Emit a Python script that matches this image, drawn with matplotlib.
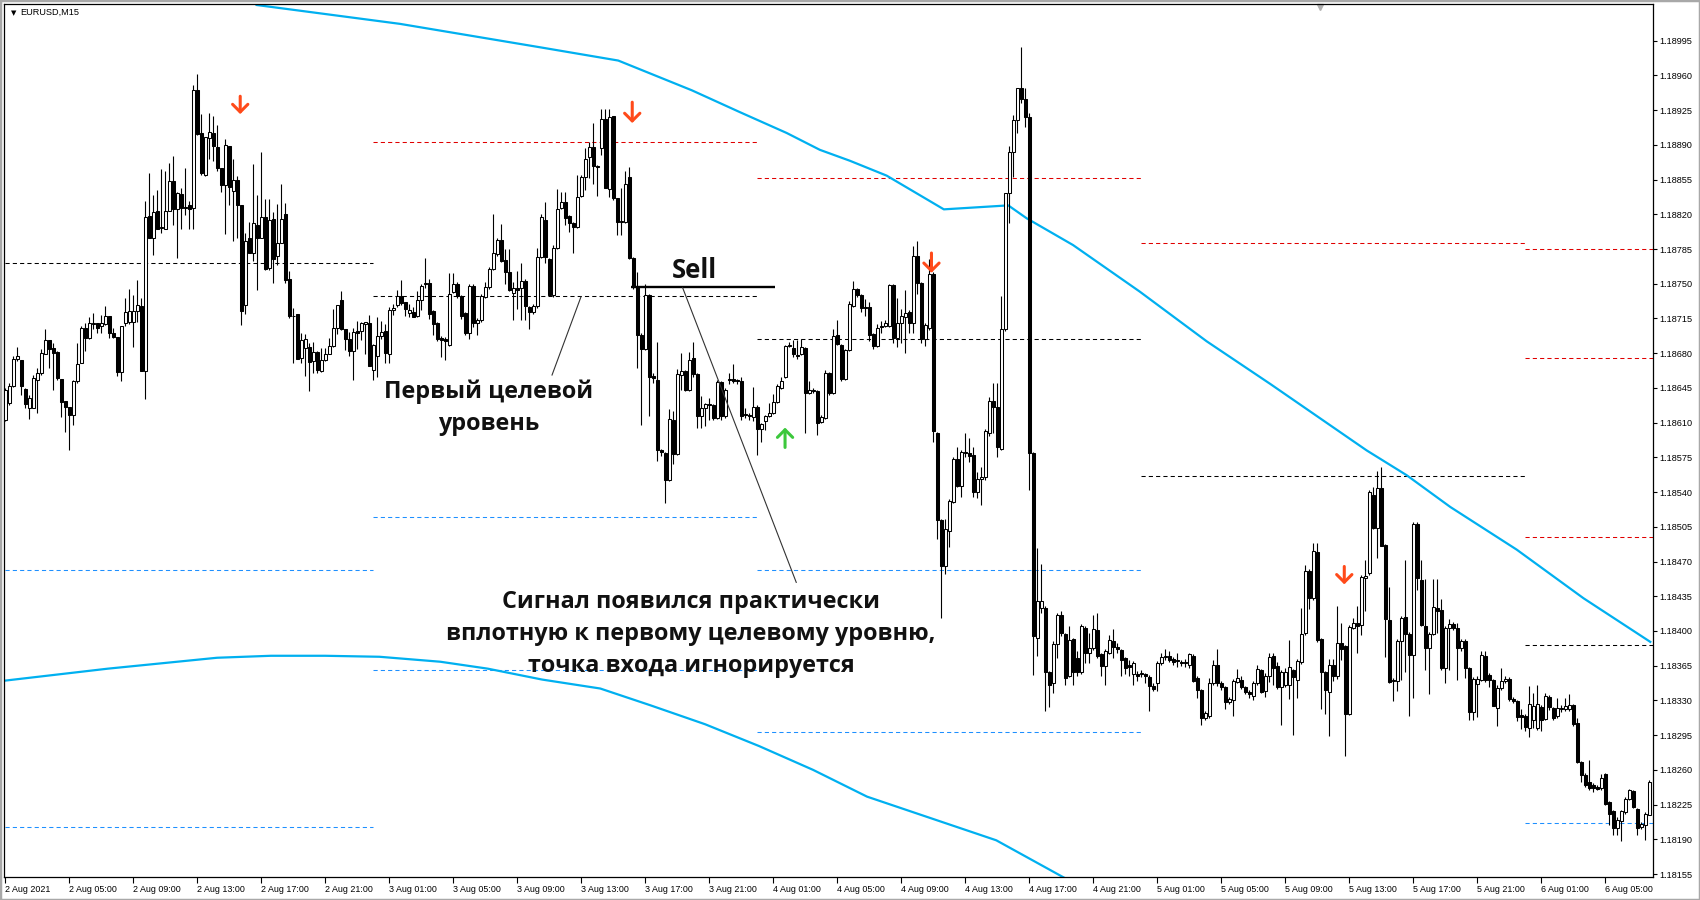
import numpy as np
import matplotlib.pyplot as plt
from matplotlib.patches import Rectangle
from matplotlib import font_manager

# prices are stored in points (0.00001) above BASE
BASE = 1.18
PT = 0.00001

opens = [
    613, 630, 647, 674, 673, 644, 625, 625, 653, 660,
    679, 693, 685, 681, 654, 632, 626, 618, 652, 670,
    705, 695, 709, 710, 707, 709, 717, 700, 696, 661,
    710, 711, 711, 723, 728, 662, 818, 796, 823, 806,
    805, 823, 854, 825, 840, 827, 829, 826, 945, 902,
    860, 897, 902, 888, 867, 850, 889, 844, 855, 829,
    729, 796, 781, 809, 796, 817, 766, 815, 778, 791,
    820, 755, 717, 720, 675, 685, 686, 672, 681, 662,
    673, 679, 687, 705, 734, 704, 694, 682, 702, 702,
    709, 710, 663, 677, 697, 702, 679, 724, 729, 738,
    732, 721, 722, 717, 734, 750, 751, 723, 710, 695,
    694, 688, 742, 750, 738, 721, 700, 748, 710, 713,
    737, 747, 765, 780, 794, 774, 762, 741, 746, 746,
    753, 727, 722, 728, 777, 814, 775, 739, 786, 826,
    832, 818, 811, 807, 838, 858, 878, 888, 869, 887,
    916, 846, 919, 836, 812, 812, 858, 776, 747, 698,
    684, 739, 657, 653, 582, 579, 552, 613, 578, 658,
    662, 643, 675, 659, 617, 625, 629, 628, 615, 651,
    617, 654, 654, 653, 652, 619, 618, 616, 626, 604,
    612, 617, 620, 631, 645, 656, 687, 685, 678, 679,
    685, 640, 642, 642, 611, 615, 660, 640, 698, 688,
    654, 683, 728, 745, 739, 727, 727, 699, 687, 707,
    707, 707, 749, 695, 710, 716, 722, 710, 778, 751,
    694, 705, 760, 600, 512, 465, 501, 530, 573, 546,
    580, 579, 577, 540, 553, 555, 600, 632, 626, 583,
    704, 841, 883, 915, 947, 936, 918, 579, 393, 423,
    423, 359, 348, 387, 416, 397, 355, 392, 373, 359,
    403, 378, 383, 401, 377, 365, 378, 390, 384, 381,
    373, 366, 357, 357, 357, 357, 354, 345, 348, 368,
    374, 375, 372, 371, 369, 369, 366, 375, 353, 341,
    312, 314, 348, 366, 348, 344, 328, 330, 349, 351,
    344, 338, 334, 348, 361, 339, 355, 375, 365, 344,
    346, 346, 361, 351, 369, 398, 460, 433, 480, 392,
    359, 338, 366, 355, 388, 385, 316, 403, 408, 406,
    453, 458, 537, 504, 544, 487, 411, 350, 350, 390,
    414, 397, 376, 508, 451, 405, 383, 397, 423, 421,
    363, 403, 407, 403, 383, 390, 363, 318, 347, 351,
    375, 356, 351, 322, 343, 350, 352, 331, 329, 315,
    314, 302, 310, 302, 323, 311, 333, 322, 314, 321,
    321, 321, 325, 307, 268, 255, 248, 245, 243, 242,
    256, 228, 219, 201, 208, 218, 231, 239, 221, 202,
    204, 215,
]
highs = [
    645, 650, 677, 686, 673, 645, 638, 658, 665, 684,
    704, 693, 690, 682, 654, 632, 626, 653, 690, 707,
    710, 716, 721, 710, 719, 728, 717, 705, 696, 707,
    736, 745, 739, 754, 736, 833, 862, 839, 845, 866,
    864, 872, 879, 842, 847, 867, 833, 950, 961, 921,
    898, 922, 919, 910, 867, 896, 889, 876, 859, 829,
    801, 812, 871, 839, 883, 835, 835, 822, 830, 851,
    831, 763, 726, 720, 700, 699, 690, 691, 682, 685,
    685, 695, 725, 729, 743, 704, 701, 705, 712, 711,
    711, 719, 689, 716, 712, 709, 727, 730, 744, 754,
    732, 730, 727, 743, 750, 776, 755, 724, 711, 697,
    696, 761, 761, 752, 739, 722, 750, 750, 715, 740,
    752, 767, 820, 796, 810, 785, 785, 752, 763, 771,
    755, 728, 730, 786, 820, 832, 776, 789, 846, 842,
    842, 819, 812, 860, 860, 887, 893, 912, 870, 926,
    926, 926, 919, 836, 847, 864, 868, 777, 762, 700,
    750, 740, 660, 691, 583, 580, 624, 622, 664, 680,
    663, 681, 691, 660, 637, 630, 635, 629, 653, 652,
    645, 660, 669, 654, 656, 625, 620, 646, 628, 610,
    618, 630, 639, 649, 656, 688, 691, 693, 693, 694,
    686, 652, 645, 643, 618, 663, 661, 704, 713, 689,
    684, 733, 753, 746, 740, 735, 732, 700, 709, 712,
    713, 750, 750, 736, 725, 744, 724, 788, 793, 752,
    710, 775, 762, 601, 513, 513, 533, 575, 585, 582,
    600, 595, 585, 560, 565, 604, 636, 650, 650, 738,
    841, 889, 920, 947, 989, 947, 922, 580, 484, 468,
    425, 360, 390, 418, 420, 398, 405, 393, 380, 407,
    405, 398, 416, 418, 378, 382, 396, 402, 388, 382,
    374, 371, 370, 360, 361, 358, 356, 348, 370, 378,
    382, 380, 374, 378, 371, 372, 378, 377, 355, 342,
    319, 353, 371, 382, 350, 345, 333, 352, 362, 355,
    345, 340, 350, 366, 362, 358, 378, 378, 369, 361,
    363, 391, 362, 372, 423, 467, 462, 489, 489, 393,
    360, 372, 372, 425, 408, 386, 406, 413, 425, 456,
    472, 542, 545, 561, 565, 488, 444, 353, 392, 415,
    472, 399, 510, 510, 472, 452, 399, 452, 452, 432,
    405, 412, 409, 408, 392, 392, 364, 354, 355, 380,
    380, 358, 352, 346, 363, 355, 354, 333, 330, 321,
    316, 345, 337, 346, 325, 337, 335, 323, 332, 325,
    332, 336, 326, 312, 269, 257, 270, 247, 245, 256,
    257, 229, 220, 212, 220, 233, 241, 240, 222, 207,
    218, 250,
]
lows = [
    612, 628, 646, 672, 638, 625, 614, 625, 620, 658,
    679, 665, 643, 653, 616, 601, 582, 608, 650, 670,
    682, 694, 704, 700, 700, 708, 695, 695, 657, 652,
    707, 709, 686, 711, 662, 634, 796, 779, 805, 801,
    805, 823, 809, 776, 805, 819, 805, 805, 900, 860,
    859, 876, 874, 864, 842, 800, 829, 793, 796, 708,
    720, 781, 773, 744, 796, 764, 764, 751, 769, 791,
    751, 715, 670, 674, 670, 657, 642, 660, 660, 661,
    672, 679, 686, 699, 703, 683, 677, 653, 684, 693,
    679, 667, 653, 656, 694, 670, 670, 719, 727, 729,
    717, 716, 716, 716, 724, 746, 714, 698, 692, 676,
    673, 687, 741, 736, 714, 698, 694, 706, 698, 711,
    736, 745, 764, 778, 772, 750, 743, 713, 725, 713,
    713, 704, 720, 726, 776, 771, 738, 737, 785, 825,
    809, 802, 781, 806, 837, 845, 857, 851, 838, 880,
    847, 837, 834, 799, 799, 811, 775, 745, 665, 608,
    683, 617, 650, 571, 576, 529, 551, 568, 577, 643,
    642, 642, 656, 605, 605, 607, 613, 613, 614, 613,
    615, 649, 650, 649, 613, 615, 613, 612, 577, 590,
    603, 616, 619, 630, 644, 655, 686, 676, 674, 678,
    600, 639, 640, 598, 610, 614, 638, 639, 688, 652,
    653, 682, 727, 737, 722, 718, 692, 684, 686, 700,
    706, 706, 690, 686, 690, 680, 700, 700, 740, 690,
    687, 703, 590, 493, 413, 457, 485, 529, 545, 535,
    575, 570, 535, 534, 527, 552, 597, 600, 575, 582,
    702, 811, 858, 902, 932, 908, 542, 356, 375, 418,
    319, 323, 337, 373, 395, 346, 354, 346, 355, 357,
    368, 368, 381, 373, 355, 346, 377, 373, 378, 355,
    357, 355, 346, 350, 354, 348, 319, 339, 339, 366,
    371, 369, 366, 364, 365, 364, 363, 349, 332, 305,
    310, 312, 346, 345, 340, 321, 326, 314, 348, 342,
    336, 332, 330, 346, 337, 333, 349, 346, 342, 305,
    344, 331, 295, 332, 367, 396, 422, 431, 389, 321,
    316, 294, 350, 352, 371, 274, 315, 402, 378, 396,
    420, 456, 503, 474, 486, 374, 348, 329, 339, 351,
    359, 314, 332, 441, 405, 361, 336, 396, 398, 361,
    348, 361, 401, 351, 380, 353, 310, 310, 313, 350,
    349, 344, 324, 304, 341, 348, 329, 327, 309, 301,
    299, 293, 302, 300, 299, 310, 320, 310, 312, 318,
    319, 319, 304, 267, 248, 243, 240, 238, 240, 240,
    225, 204, 194, 194, 188, 216, 230, 222, 194, 200,
    189, 215,
]
closes = [
    643, 647, 674, 677, 647, 629, 635, 655, 660, 680,
    693, 684, 680, 655, 631, 626, 618, 652, 669, 705,
    695, 710, 710, 705, 710, 717, 700, 696, 661, 707,
    722, 723, 723, 729, 662, 817, 796, 822, 805, 807,
    823, 854, 825, 841, 826, 826, 825, 945, 901, 862,
    898, 903, 889, 867, 850, 890, 848, 855, 829, 723,
    793, 781, 811, 796, 817, 765, 814, 775, 791, 815,
    754, 717, 718, 674, 693, 694, 671, 681, 663, 673,
    679, 687, 705, 729, 704, 694, 682, 701, 700, 710,
    711, 667, 688, 697, 701, 680, 724, 726, 738, 731,
    725, 724, 716, 734, 748, 751, 720, 709, 694, 693,
    692, 740, 750, 738, 718, 700, 748, 710, 713, 738,
    747, 765, 781, 794, 773, 762, 744, 746, 744, 753,
    728, 722, 728, 777, 817, 777, 739, 786, 825, 832,
    816, 811, 807, 837, 858, 876, 888, 869, 868, 916,
    847, 918, 836, 812, 813, 851, 776, 747, 698, 684,
    739, 656, 655, 582, 580, 552, 614, 578, 659, 662,
    643, 673, 659, 617, 625, 629, 628, 615, 651, 617,
    643, 653, 652, 652, 617, 618, 617, 626, 604, 609,
    617, 620, 631, 647, 652, 687, 688, 679, 677, 686,
    640, 643, 643, 610, 616, 660, 640, 697, 689, 654,
    683, 730, 745, 739, 726, 726, 698, 687, 705, 706,
    710, 749, 695, 710, 718, 721, 710, 778, 751, 694,
    708, 760, 602, 512, 465, 503, 531, 573, 546, 580,
    579, 576, 540, 553, 555, 602, 632, 626, 585, 704,
    841, 883, 915, 947, 936, 918, 579, 395, 430, 430,
    359, 346, 387, 416, 398, 353, 391, 359, 359, 405,
    378, 383, 402, 375, 365, 380, 391, 384, 382, 371,
    363, 364, 368, 355, 358, 355, 345, 342, 368, 374,
    375, 371, 369, 370, 368, 368, 377, 350, 341, 312,
    317, 348, 366, 348, 344, 328, 331, 350, 353, 344,
    338, 336, 348, 362, 338, 355, 374, 363, 344, 359,
    359, 364, 354, 370, 397, 460, 433, 481, 391, 359,
    340, 366, 355, 388, 382, 316, 404, 408, 405, 454,
    455, 540, 504, 544, 486, 412, 349, 351, 390, 413,
    397, 376, 508, 453, 406, 383, 397, 424, 420, 363,
    403, 407, 403, 383, 390, 363, 318, 352, 352, 376,
    351, 351, 324, 343, 350, 352, 331, 329, 313, 313,
    303, 326, 324, 326, 310, 334, 323, 312, 322, 322,
    324, 325, 306, 268, 255, 245, 242, 242, 241, 252,
    226, 216, 201, 209, 219, 231, 240, 223, 201, 205,
    216, 248,
]

# blue envelope lines, (bar, points)
upper_bar = [62.8, 98.6, 134.2, 153.2, 171.6, 183.6, 195.3, 203.6, 211.1, 220.3, 234.6,
             250.7, 255.3, 266.9, 283.6, 300.3, 316.2, 340.3, 350.3, 361.2, 377.8, 394.5, 411.2]
upper_val = [1031, 1012, 988, 975, 945, 923, 902, 885, 874, 859, 825,
             829, 816, 789, 742, 692, 649, 582, 557, 525, 482, 433, 389]
lower_bar = [0, 25.6, 52.9, 66.4, 79.9, 93.5, 108.7, 120.6, 134.2, 148.7, 161.3,
             174.9, 188.4, 201.9, 215.4, 247.7, 265.7]
lower_val = [350, 362, 373, 375, 375, 374, 369, 362, 351, 342, 325,
             306, 284, 260, 233, 189, 149]

# daily levels: day start/end bar and levels per colour
day_start = [0, 92, 188, 284, 380]
day_end = [92, 188, 284, 380, 412]
red_levels = [[], [893], [857], [791], [785, 675, 495]]
black_levels = [[771], [738], [694], [556], [386]]
blue_levels = [[461, 202], [515, 361], [461, 298], [], [206]]

down_arrow_bar = [58.7, 156.7, 231.5, 334.7]
down_arrow_top = [939, 933, 781, 465]
down_arrow_tip = [921, 912, 761, 447]
up_arrow_bar = [194.9]
up_arrow_tail = [585]
up_arrow_tip = [605]

sell_level = 746.5
sell_from, sell_to = 156.4, 192.4

xtick_bars = list(range(0, 401, 16))
xtick_labels = ["2 Aug 2021", "2 Aug 05:00", "2 Aug 09:00", "2 Aug 13:00", "2 Aug 17:00",
                "2 Aug 21:00", "3 Aug 01:00", "3 Aug 05:00", "3 Aug 09:00", "3 Aug 13:00",
                "3 Aug 17:00", "3 Aug 21:00", "4 Aug 01:00", "4 Aug 05:00", "4 Aug 09:00",
                "4 Aug 13:00", "4 Aug 17:00", "4 Aug 21:00", "5 Aug 01:00", "5 Aug 05:00",
                "5 Aug 09:00", "5 Aug 13:00", "5 Aug 17:00", "5 Aug 21:00", "6 Aug 01:00",
                "6 Aug 05:00"]
ytick_pts = list(range(155, 996, 35))


def px(v):
    return BASE + np.asarray(v, dtype=float) * PT


o = px(opens)
c = px(closes)
h = np.maximum(px(highs), np.maximum(o, c))
l = np.minimum(px(lows), np.minimum(o, c))
x = np.arange(len(opens))

fig = plt.figure(figsize=(17, 9), dpi=100)
ax = fig.add_axes([4 / 1700, 23 / 900, 1648.7 / 1700, 873 / 900])
ax.set_xlim(-0.35, 411.8)
ax.set_ylim(px(152), px(1032))

dash = (0, (4, 3))
for d in range(len(day_start)):
    for lev in red_levels[d]:
        ax.hlines(px(lev), day_start[d], day_end[d], colors='#e00000', linestyles=dash, lw=0.75, zorder=1)
    for lev in black_levels[d]:
        ax.hlines(px(lev), day_start[d], day_end[d], colors='black', linestyles=dash, lw=0.75, zorder=1)
    for lev in blue_levels[d]:
        ax.hlines(px(lev), day_start[d], day_end[d], colors='#1e90ff', linestyles=dash, lw=0.75, zorder=1)

ax.plot(upper_bar, px(upper_val), color='#00b0f0', lw=1.6, zorder=2)
ax.plot(lower_bar, px(lower_val), color='#00b0f0', lw=1.6, zorder=2)

# candles
ax.vlines(x, l, h, colors='black', lw=0.8, zorder=3)
bull = c >= o
ax.bar(x[bull], (c - o)[bull], bottom=o[bull], width=0.72, color='white',
       edgecolor='black', linewidth=0.75, zorder=4)
ax.bar(x[~bull], (o - c)[~bull], bottom=c[~bull], width=0.72, color='black',
       edgecolor='black', linewidth=0.75, zorder=4)

# signal arrows
for b, t, tip in zip(down_arrow_bar, down_arrow_top, down_arrow_tip):
    ax.annotate('', xy=(b, px(tip)), xytext=(b, px(t)),
                arrowprops=dict(arrowstyle='->,head_length=0.55,head_width=0.55',
                                color='#ff4a1a', lw=2.2, shrinkA=0, shrinkB=0), zorder=5)
for b, t, tip in zip(up_arrow_bar, up_arrow_tail, up_arrow_tip):
    ax.annotate('', xy=(b, px(tip)), xytext=(b, px(t)),
                arrowprops=dict(arrowstyle='->,head_length=0.55,head_width=0.55',
                                color='#3cc83c', lw=2.2, shrinkA=0, shrinkB=0), zorder=5)

# annotations
names = {f.name for f in font_manager.fontManager.ttflist}
fam = ['Open Sans', 'DejaVu Sans'] if 'Open Sans' in names else ['DejaVu Sans']
font = dict(family=fam, weight='bold', size=16.8, color='#111111')
ax.hlines(px(sell_level), sell_from, sell_to, colors='black', lw=1.7, zorder=6)
ax.text(172.2, px(763), 'Sell', ha='center', va='center', zorder=6,
        **{**font, 'size': 18.5})
ax.plot([169.3, 197.7], px([746, 449]), color='#333333', lw=0.8, zorder=6)
ax.plot([143.9, 136.65], px([737, 658]), color='#333333', lw=0.8, zorder=6)
ax.text(120.9, px(625), 'Первый целевой\nуровень', ha='center', va='center',
        linespacing=1.42, zorder=6, **font)
ax.text(171.4, px(397), 'Сигнал появился практически\nвплотную к первому целевому уровню,\n'
        'точка входа игнорируется', ha='center', va='center', linespacing=1.45, zorder=6, **font)

# header
ax.text(0.0045, 0.990, '▼', transform=ax.transAxes, fontsize=5, ha='left', va='center')
ax.text(0.0101, 0.990, 'EURUSD,M15', transform=ax.transAxes, fontsize=6.6,
        family='Liberation Sans', ha='left', va='center')
ax.plot([0.798], [0.997], marker='v', color='#b0b0b0', ms=4, transform=ax.transAxes, clip_on=False)

# axes
ax.yaxis.tick_right()
ax.set_yticks(px(ytick_pts))
ax.set_yticklabels([f"{v:.5f}" for v in px(ytick_pts)], family='Liberation Sans', fontsize=6.6)
ax.set_xticks(xtick_bars)
ax.set_xticklabels(xtick_labels, family='Liberation Sans', fontsize=6.4, ha='left')
ax.tick_params(axis='y', direction='out', length=3, width=0.8, pad=2)
ax.tick_params(axis='x', direction='out', length=4, width=0.8, pad=1.5)
for s in ax.spines.values():
    s.set_linewidth(0.9)
    s.set_color('black')

fig.patches.append(Rectangle((0, 0), 1, 1, transform=fig.transFigure, fill=False,
                             edgecolor='#a8a8a8', lw=2.5))

fig.savefig('out.png', dpi=100)
